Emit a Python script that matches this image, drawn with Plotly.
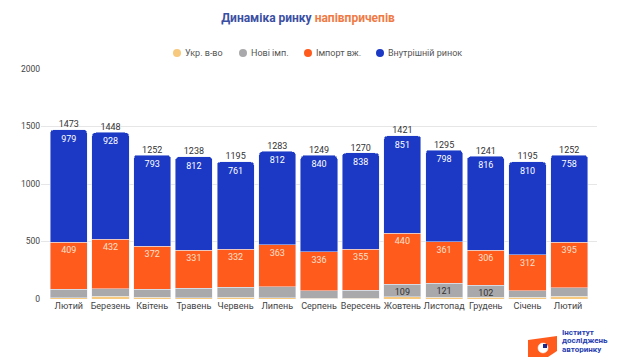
import plotly.graph_objects as go

months = ["Лютий", "Березень", "Квітень", "Травень", "Червень", "Липень", "Серпень",
          "Вересень", "Жовтень", "Листопад", "Грудень", "Січень", "Лютий "]
ukr = [12, 22, 15, 12, 15, 10, 8, 8, 21, 15, 17, 14, 22]
new_imp = [73, 66, 72, 83, 87, 98, 65, 69, 109, 121, 102, 59, 77]
used_imp = [409, 432, 372, 331, 332, 363, 336, 355, 440, 361, 306, 312, 395]
domestic = [979, 928, 793, 812, 761, 812, 840, 838, 851, 798, 816, 810, 758]
totals = [1473, 1448, 1252, 1238, 1195, 1283, 1249, 1270, 1421, 1295, 1241, 1195, 1252]
new_imp_labels = ["" if v < 100 else str(v) for v in new_imp]
legend_names = ["Укр. в-во", "Нові імп.", "Імпорт вж.", "Внутрішній ринок"]

C_UKR = "#f6c97e"
C_NEW = "#a9a9ab"
C_USED = "#ff5b1c"
C_DOM = "#1b39c4"
FONT = "Roboto"

L, R, T, B = 41, 23, 69, 62
W, H = 620, 361
PW, PH = W - L - R, H - T - B


def px2paper(x, y):
    return (x - L) / PW, (H - B - y) / PH


fig = go.Figure()
fig.add_bar(x=months, y=ukr, marker_color=C_UKR, name=legend_names[0], showlegend=False,
            hoverinfo="skip")
fig.add_bar(x=months, y=new_imp, marker_color=C_NEW, name=legend_names[1], showlegend=False,
            text=new_imp_labels, textposition="inside", insidetextanchor="end",
            textangle=0, constraintext="none",
            insidetextfont=dict(color="#333333", size=9, family=FONT))
fig.add_bar(x=months, y=used_imp, marker_color=C_USED, name=legend_names[2], showlegend=False,
            text=[str(v) for v in used_imp], textposition="inside", insidetextanchor="end",
            textangle=0, constraintext="none",
            insidetextfont=dict(color="#ffe0cf", size=9, family=FONT))
fig.add_bar(x=months, y=domestic, marker_color=C_DOM, name=legend_names[3], showlegend=False,
            text=[str(v) for v in domestic], textposition="inside", insidetextanchor="end",
            textangle=0, constraintext="none",
            insidetextfont=dict(color="#ffffff", size=9, family=FONT))
fig.add_scatter(x=months, y=totals, mode="text", text=[str(v) for v in totals],
                textposition="top center", showlegend=False,
                textfont=dict(color="#333333", size=9, family=FONT), hoverinfo="skip")

shapes = []
annotations = []

# manual legend (circle markers + labels)
leg_circle_x = [177, 243, 308, 380]
leg_cols = [C_UKR, C_NEW, C_USED, C_DOM]
leg_y = 53
for cx, col, nm in zip(leg_circle_x, leg_cols, legend_names):
    x0, y0 = px2paper(cx - 4, leg_y + 4)
    x1, y1 = px2paper(cx + 4, leg_y - 4)
    shapes.append(dict(type="circle", xref="paper", yref="paper", x0=x0, y0=y0, x1=x1, y1=y1,
                       fillcolor=col, line=dict(width=0)))
    tx, ty = px2paper(cx + 6, leg_y)
    annotations.append(dict(text=nm, xref="paper", yref="paper", x=tx, y=ty, xanchor="left",
                            yanchor="middle", showarrow=False,
                            font=dict(size=9, color="#555555", family=FONT)))

# logo
pts = [(528, 340), (557, 336), (557, 351), (548, 357), (528, 357)]
path = "M " + " L ".join("{:.4f},{:.4f}".format(*px2paper(a, b)) for a, b in pts) + " Z"
shapes.append(dict(type="path", xref="paper", yref="paper", path=path,
                   fillcolor="#ff5b1c", line=dict(width=0)))
cx0, cy0 = px2paper(538, 353)
cx1, cy1 = px2paper(548, 343)
shapes.append(dict(type="circle", xref="paper", yref="paper", x0=cx0, y0=cy0, x1=cx1, y1=cy1,
                   fillcolor="#ffffff", line=dict(color="#ffffff", width=0.5)))
qx0, qy0 = px2paper(543, 348)
qx1, qy1 = px2paper(547, 344)
shapes.append(dict(type="rect", xref="paper", yref="paper", x0=qx0, y0=qy0, x1=qx1, y1=qy1,
                   fillcolor="#1b2a8a", line=dict(width=0)))
for txt, yy in [("Інститут", 332), ("досліджень", 340.5), ("авторинку", 349)]:
    ax, ay = px2paper(560, yy)
    annotations.append(dict(text="<b>" + txt + "</b>", xref="paper", yref="paper", x=ax, y=ay,
                            xanchor="left", yanchor="middle", showarrow=False,
                            font=dict(size=8, color="#2a3fb0", family=FONT)))

fig.update_layout(
    width=W, height=H,
    margin=dict(l=L, r=R, t=T, b=B),
    paper_bgcolor="#ffffff", plot_bgcolor="#ffffff",
    barmode="stack", bargap=0.11, barcornerradius=4,
    font=dict(family=FONT, size=9, color="#444444"),
    showlegend=False,
    title=dict(text="<b><span style='color:#3b4fa3'>Динаміка ринку </span>"
                    "<span style='color:#f07a45'>напівпричепів</span></b>",
               x=308 / W, xanchor="center", xref="container",
               y=1 - 18 / H, yanchor="middle", yref="container",
               font=dict(size=12, family=FONT)),
    xaxis=dict(showgrid=False, showline=False, ticks="", automargin=False, tickangle=0,
               tickfont=dict(size=9, color="#444444"), fixedrange=True),
    yaxis=dict(range=[0, 2000], tickvals=[0, 500, 1000, 1500, 2000], showgrid=True,
               gridcolor="#e6e6e6", gridwidth=1, zeroline=False, ticks="", automargin=False,
               tickfont=dict(size=8.5, color="#444444"), fixedrange=True),
    shapes=shapes,
    annotations=annotations,
)

fig.write_html("out.html", config={"displayModeBar": False},
               post_script="document.body.style.margin='0';document.body.style.padding='0';")
